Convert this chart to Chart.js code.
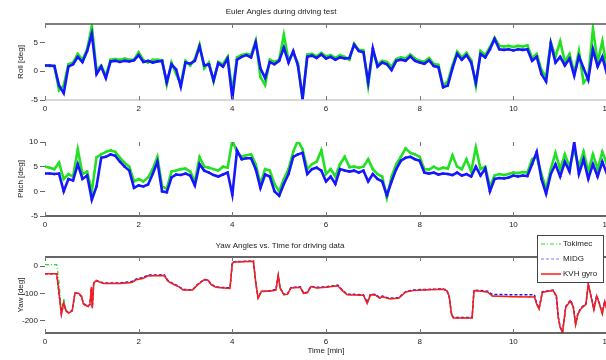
<!DOCTYPE html>
<html>
<head>
<meta charset="utf-8">
<script src="https://cdn.jsdelivr.net/npm/chart.js@4.4.0/dist/chart.umd.min.js"></script>
<style>
  html, body { margin: 0; padding: 0; background: #fff; overflow: hidden; width: 606px; height: 360px; }
  .panel { position: absolute; left: 0; width: 625px; }
  #p1 { top: 0; height: 118px; }
  #p2 { top: 118px; height: 116px; }
  #p3 { top: 234px; height: 126px; }
</style>
</head>
<body>
<div class="panel" id="p1"><canvas id="roll"></canvas></div>
<div class="panel" id="p2"><canvas id="pitch"></canvas></div>
<div class="panel" id="p3"><canvas id="yaw"></canvas></div>
<script>
// x ticks (minutes) and y ticks per panel
const timeTicks = [0, 2, 4, 6, 8, 10, 12];
const rollTicks = [-5, 0, 5];
const pitchTicks = [-5, 0, 5, 10];
const yawTicks = [-200, -100, 0];

// roll [deg], sampled every 0.1 min
const rollMidg = [
  1.0, 1.0, 0.9, -2.5, -3.8, 0.8, 1.2, 2.5, 1.6, 3.5,
  6.5, -0.5, 0.8, -1.2, 1.7, 1.8, 1.6, 1.8, 1.7, 1.9,
  2.8, 1.6, 1.8, 1.5, 1.7, 1.8, -1.9, 1.2, 0.3, -2.7,
  1.5, 1.3, 1.8, 4.3, 1.0, 1.2, -1.6, 1.4, 0.8, 2.2,
  -4.7, 2.0, 2.5, 2.8, 2.4, 5.0, 0.5, -1.2, 1.6, 1.2,
  1.8, 4.1, 1.5, 3.5, 1.0, -4.7, 2.5, 2.7, 2.3, 2.9,
  2.2, 2.5, 2.0, 2.4, 2.2, 2.3, 4.6, 3.5, 3.3, -1.9,
  4.0, 0.8, 1.5, 1.2, 0.2, 1.8, 2.0, 1.8, 2.6, 1.8,
  1.5, 1.3, 1.9, 0.9, 0.7, -2.8, -2.5, 0.5, 3.0, 2.0,
  2.8, 1.5, -2.0, 3.0, 2.4, 3.8, 5.6, 3.8, 3.7, 3.8,
  3.6, 3.8, 3.7, 3.8, 1.8, 2.5, -0.5, -1.8, 4.8, 1.5,
  2.5, 1.0, 2.2, -0.8, 2.6, 0.5, -1.5, 3.8, 0.8, 2.5,
  -0.5
];
const rollTokimec = [
  1.0, 0.9, 0.9, -3.3, -2.5, 1.2, 1.5, 3.0, 2.0, 3.8,
  7.8, 0.2, 1.0, -0.8, 2.0, 2.1, 2.0, 2.2, 2.0, 2.0,
  3.3, 1.9, 1.5, 2.0, 2.0, 1.9, -2.3, 1.5, -0.5, -2.2,
  1.8, 1.0, 2.1, 4.6, 0.5, 1.5, -1.8, 1.6, 1.2, 2.5,
  -3.5, 2.4, 2.8, 3.0, 2.8, 5.3, -1.0, -2.4, 2.0, 1.6,
  2.0, 6.3, 1.9, 3.2, 1.4, -5.0, 2.9, 3.0, 2.6, 3.2,
  2.6, 2.8, 2.3, 2.8, 2.5, 2.0, 4.8, 3.7, 3.6, -2.5,
  3.5, 1.2, 1.8, 1.6, 0.8, 2.1, 2.4, 2.2, 2.9, 2.2,
  1.8, 1.7, 2.3, 1.3, 1.1, -2.5, -1.8, 1.0, 3.4, 2.4,
  3.2, 1.9, -2.5, 3.5, 2.8, 4.2, 5.8, 4.4, 4.3, 4.4,
  4.2, 4.4, 4.3, 4.5, 2.3, 3.0, 0.2, -1.0, 5.0, 2.5,
  5.2, 1.6, 3.0, -0.3, 3.5, -2.0, -1.0, 7.4, 1.5, 5.2,
  0.5
];

// pitch [deg], sampled every 0.1 min
const pitchMidg = [
  3.6, 3.6, 3.5, 3.6, 0.0, 2.5, 2.2, 5.5, 2.5, 3.2,
  -1.7, 1.0, 6.8, 7.0, 7.5, 7.2, 6.0, 5.0, 4.2, 0.7,
  1.2, 1.0, 1.4, 3.5, 6.0, 0.0, -0.2, 2.8, 3.4, 3.3,
  3.6, 3.2, 1.2, 5.5, 4.2, 3.8, 3.3, 3.0, 3.4, 3.8,
  -0.7, 8.3, 6.5, 6.7, 6.7, 4.5, 0.7, 3.4, 3.0, 0.0,
  -0.9, 1.5, 3.5, 7.0, 7.5, 7.8, 3.5, 4.5, 4.8, 4.2,
  2.0, 3.0, 1.5, 4.5, 4.2, 4.0, 4.2, 3.8, 4.2, 2.0,
  3.5, 2.5, 2.0, -0.8, 2.0, 4.5, 6.2, 6.8, 7.0, 6.5,
  6.2, 3.8, 3.6, 3.8, 3.4, 3.6, 3.5, 3.3, 3.8, 3.2,
  3.5, 3.0, 5.0, 3.2, 4.6, 0.0, 2.5, 2.7, 2.6, 2.8,
  3.2, 3.0, 3.2, 3.1, 5.5, 8.0, 2.5, -0.5, 3.5, 5.5,
  3.0, 6.0, 4.0, 10.0, 3.5, 6.5, 2.5, 5.5, 3.0, 6.0,
  3.5
];
const pitchTokimec = [
  5.0, 4.8, 4.5, 5.8, 2.5, 3.5, 3.0, 8.5, 3.5, 4.0,
  0.0, 6.9, 7.5, 8.0, 8.3, 8.0, 6.8, 5.8, 5.0, 2.0,
  2.5, 2.0, 2.8, 4.5, 7.0, 1.0, 0.5, 4.0, 4.2, 4.5,
  4.6, 4.0, 2.0, 6.9, 5.0, 4.8, 4.5, 4.2, 5.0, 4.8,
  10.3, 8.0, 7.0, 7.3, 7.5, 5.5, 1.5, 4.5, 4.2, 1.5,
  0.0, 2.5, 4.5, 8.0, 10.3, 8.5, 4.5, 5.5, 6.0, 8.3,
  3.5, 4.5, 3.0, 5.5, 7.0, 4.9, 5.0, 4.8, 5.0, 6.5,
  4.5, 3.5, 3.0, -1.3, 3.0, 5.5, 7.0, 8.7, 7.8, 7.5,
  7.0, 4.5, 4.4, 5.0, 4.5, 4.8, 4.6, 7.3, 5.0, 4.5,
  6.5, 4.0, 8.9, 4.5, 5.0, 1.0, 3.2, 3.5, 3.3, 3.5,
  3.8, 3.7, 3.9, 3.8, 6.5, 7.0, 3.5, 0.5, 4.5, 7.8,
  4.5, 7.5, 5.0, 8.5, 5.0, 8.0, 4.0, 7.5, 4.5, 8.0,
  5.5
];

// yaw [deg] at irregular times [min]
const yawTime = [
  0.00, 0.25, 0.30, 0.35, 0.40, 0.45, 0.50, 0.58, 0.64, 0.72,
  0.78, 0.82, 0.92, 0.96, 0.99, 1.01, 1.04, 1.10, 1.18, 1.25,
  1.60, 1.85, 1.95, 2.10, 2.20, 2.55, 2.62, 2.70, 2.85, 2.95,
  3.15, 3.25, 3.40, 3.48, 3.55, 3.65, 3.95, 4.00, 4.05, 4.45,
  4.50, 4.55, 4.62, 4.80, 4.93, 4.98, 5.02, 5.10, 5.18, 5.25,
  5.45, 5.52, 5.60, 5.68, 5.80, 6.00, 6.25, 6.35, 6.45, 6.80,
  6.88, 6.95, 7.05, 7.15, 7.20, 7.35, 7.55, 7.70, 7.85, 8.05,
  8.50, 8.58, 8.63, 8.68, 8.72, 9.12, 9.16, 9.45, 9.55, 10.00,
  10.45, 10.50, 10.55, 10.62, 10.85, 10.92, 10.96, 11.00, 11.05, 11.12,
  11.22, 11.28, 11.33, 11.38, 11.45, 11.55, 11.60, 11.67, 11.72, 11.78,
  11.84, 11.90, 11.95, 12.00
];
const yawKvh = [
  -28, -28, -100, -178, -135, -165, -172, -165, -98, -100,
  -110, -140, -148, -140, -77, -155, -62, -53, -60, -64,
  -64, -60, -50, -45, -36, -35, -55, -63, -75, -88,
  -88, -70, -50, -52, -68, -78, -82, 10, 15, 17,
  -60, -118, -92, -92, -88, -33, -80, -105, -103, -80,
  -78, -100, -98, -75, -80, -78, -72, -90, -105, -107,
  -137, -105, -106, -118, -112, -120, -118, -95, -90, -88,
  -85, -90, -110, -178, -190, -190, -90, -95, -110, -112,
  -113, -140, -158, -96, -90, -110, -190, -225, -243, -150,
  -128, -150, -215, -175, -155, -140, -65, -120, -160, -110,
  -140, -175, -130, -160
];
const yawMidg = [
  -28, -28, -98, -175, -138, -163, -170, -163, -99, -101,
  -112, -138, -146, -141, -80, -150, -64, -54, -58, -62,
  -62, -57, -47, -42, -33, -33, -52, -61, -74, -86,
  -87, -69, -49, -51, -67, -77, -80, 12, 16, 18,
  -62, -115, -94, -90, -86, -36, -82, -103, -101, -79,
  -76, -98, -96, -74, -78, -76, -70, -88, -103, -105,
  -133, -103, -104, -116, -110, -118, -116, -94, -88, -86,
  -84, -88, -112, -175, -188, -188, -88, -92, -104, -105,
  -105, -138, -155, -94, -88, -112, -186, -222, -240, -148,
  -125, -148, -210, -172, -152, -138, -68, -118, -157, -108,
  -138, -172, -128, -158
];
const yawTokimec = [
  5, 5, -60, -165, -118, -160, -170, -163, -100, -100,
  -110, -140, -148, -140, -78, -152, -63, -53, -60, -64,
  -64, -60, -50, -45, -36, -35, -55, -63, -75, -88,
  -88, -70, -50, -52, -68, -78, -82, 10, 15, 17,
  -60, -118, -92, -92, -88, -35, -80, -105, -103, -80,
  -78, -100, -98, -75, -80, -78, -72, -90, -105, -107,
  -135, -105, -106, -118, -112, -120, -118, -95, -90, -88,
  -85, -90, -110, -170, -190, -190, -90, -95, -110, -112,
  -112, -140, -158, -96, -90, -110, -190, -225, -243, -150,
  -128, -150, -215, -175, -155, -140, -67, -120, -160, -110,
  -140, -175, -130, -160
];

const sampleTime = rollMidg.map((_, i) => i / 10);
const pts = (xs, ys) => ys.map((y, i) => ({ x: xs[i], y }));

const FONT = 'Liberation Sans, Arial, sans-serif';
const GREEN = '#22e022';
const BLUE = '#1616ff';
const RED = '#ff1a1a';

// box lines, inward x tick marks and panel heading
const framePlugin = {
  id: 'frame',
  afterDatasetsDraw(chart, args, opts) {
    const { ctx, chartArea: a, scales: { x } } = chart;
    ctx.save();
    ctx.lineWidth = 1.6;
    if (opts.top) {
      ctx.strokeStyle = opts.top;
      ctx.beginPath(); ctx.moveTo(a.left, a.top); ctx.lineTo(a.right, a.top); ctx.stroke();
    }
    if (opts.bottom) {
      ctx.strokeStyle = opts.bottom;
      ctx.beginPath(); ctx.moveTo(a.left, a.bottom); ctx.lineTo(a.right, a.bottom); ctx.stroke();
    }
    ctx.strokeStyle = '#777';
    ctx.lineWidth = 1;
    timeTicks.forEach(v => {
      const px = Math.round(x.getPixelForValue(v)) + 0.5;
      ctx.beginPath();
      ctx.moveTo(px, a.top); ctx.lineTo(px, a.top + 4);
      ctx.moveTo(px, a.bottom); ctx.lineTo(px, a.bottom - 4);
      ctx.stroke();
    });
    if (opts.heading) {
      ctx.fillStyle = '#222';
      ctx.font = '8px ' + FONT;
      ctx.textAlign = 'center';
      ctx.textBaseline = 'middle';
      ctx.fillText(opts.heading, opts.headingX, opts.headingY);
    }
    ctx.restore();
  }
};

// boxed legend in the yaw panel
const boxLegend = {
  id: 'boxLegend',
  afterDraw(chart, args, opts) {
    if (!opts.display) return;
    const { ctx } = chart;
    const { x, y, w, h } = opts;
    ctx.save();
    ctx.fillStyle = '#fff';
    ctx.fillRect(x, y, w, h);
    ctx.strokeStyle = '#444';
    ctx.lineWidth = 1;
    ctx.strokeRect(x + 0.5, y + 0.5, w, h);
    ctx.font = '8px ' + FONT;
    ctx.textBaseline = 'middle';
    chart.data.datasets.forEach((ds, i) => {
      const ly = y + 9 + i * 15;
      ctx.strokeStyle = ds.legendColor || ds.borderColor;
      ctx.lineWidth = ds.borderWidth;
      ctx.setLineDash(ds.borderDash || []);
      ctx.beginPath(); ctx.moveTo(x + 4, ly); ctx.lineTo(x + 24, ly); ctx.stroke();
      ctx.setLineDash([]);
      ctx.fillStyle = '#222';
      ctx.fillText(ds.label, x + 26, ly);
    });
    ctx.restore();
  }
};

function axes(yTicks, yMin, yMax, yTitle, xHeight, xTitle) {
  return {
    x: {
      type: 'linear', min: 0, max: 12,
      afterFit: s => { s.height = xHeight; },
      afterBuildTicks: s => { s.ticks = timeTicks.map(v => ({ value: v })); },
      grid: { display: false, drawTicks: false },
      border: { display: false },
      ticks: { color: '#222', font: { family: FONT, size: 8 }, padding: 4, maxRotation: 0 },
      title: { display: !!xTitle, text: xTitle, color: '#222', font: { family: FONT, size: 8 }, padding: { top: 0, bottom: 4 } }
    },
    y: {
      min: yMin, max: yMax,
      afterFit: s => { s.width = 45; },
      afterBuildTicks: s => { s.ticks = yTicks.map(v => ({ value: v })); },
      grid: { drawOnChartArea: false, drawTicks: true, tickLength: 5, tickColor: '#666' },
      border: { display: false },
      ticks: { color: '#222', font: { family: FONT, size: 8 }, padding: 2 },
      title: { display: true, text: yTitle, color: '#222', font: { family: FONT, size: 8 }, padding: { top: 16, bottom: 0 } }
    }
  };
}

function dotSeries(label, data, color) {
  return {
    label, data: pts(sampleTime, data),
    borderColor: color, backgroundColor: color,
    borderWidth: 2.6, pointRadius: 1.3, pointBorderWidth: 0,
    tension: 0
  };
}

const common = {
  responsive: true, maintainAspectRatio: false, animation: false,
  events: [],
  plugins: { legend: { display: false }, tooltip: { enabled: false } }
};

new Chart(document.getElementById('roll'), {
  type: 'line',
  data: { datasets: [dotSeries('MIDG', rollMidg, BLUE), dotSeries('Tokimec', rollTokimec, GREEN)] },
  options: {
    ...common,
    layout: { padding: { top: 24, right: 18, left: 0, bottom: 0 } },
    scales: axes(rollTicks, -5, 8.2, 'Roll [deg]', 18),
    plugins: { ...common.plugins,
      frame: { top: '#555', bottom: '#c8c8c8', heading: 'Euler Angles during driving test', headingX: 281, headingY: 12 } }
  },
  plugins: [framePlugin]
});

new Chart(document.getElementById('pitch'), {
  type: 'line',
  data: { datasets: [dotSeries('MIDG', pitchMidg, BLUE), dotSeries('Tokimec', pitchTokimec, GREEN)] },
  options: {
    ...common,
    layout: { padding: { top: 24, right: 18, left: 0, bottom: 0 } },
    scales: axes(pitchTicks, -5, 10, 'Pitch [deg]', 18),
    plugins: { ...common.plugins, frame: { top: null, bottom: '#333' } }
  },
  plugins: [framePlugin]
});

new Chart(document.getElementById('yaw'), {
  type: 'line',
  data: {
    datasets: [
      { label: 'Tokimec', data: pts(yawTime, yawTokimec), borderColor: GREEN, borderWidth: 1.2,
        borderDash: [4, 2, 1, 2], pointRadius: 0, order: 2 },
      { label: 'MIDG', data: pts(yawTime, yawMidg), borderColor: BLUE, legendColor: '#a8a8ff', borderWidth: 1.5,
        borderDash: [3, 2], pointRadius: 0, order: 1 },
      { label: 'KVH gyro', data: pts(yawTime, yawKvh), borderColor: RED, borderWidth: 1.5,
        pointRadius: 0, order: 0 }
    ]
  },
  options: {
    ...common,
    layout: { padding: { top: 23, right: 18, left: 0, bottom: 0 } },
    scales: axes(yawTicks, -245, 33, 'Yaw [deg]', 27, 'Time [min]'),
    plugins: { ...common.plugins,
      frame: { top: '#333', bottom: '#333', heading: 'Yaw Angles vs. Time for driving data', headingX: 280, headingY: 12 },
      boxLegend: { display: true, x: 537, y: 1, w: 66, h: 47 } }
  },
  plugins: [framePlugin, boxLegend]
});
</script>
</body>
</html>
